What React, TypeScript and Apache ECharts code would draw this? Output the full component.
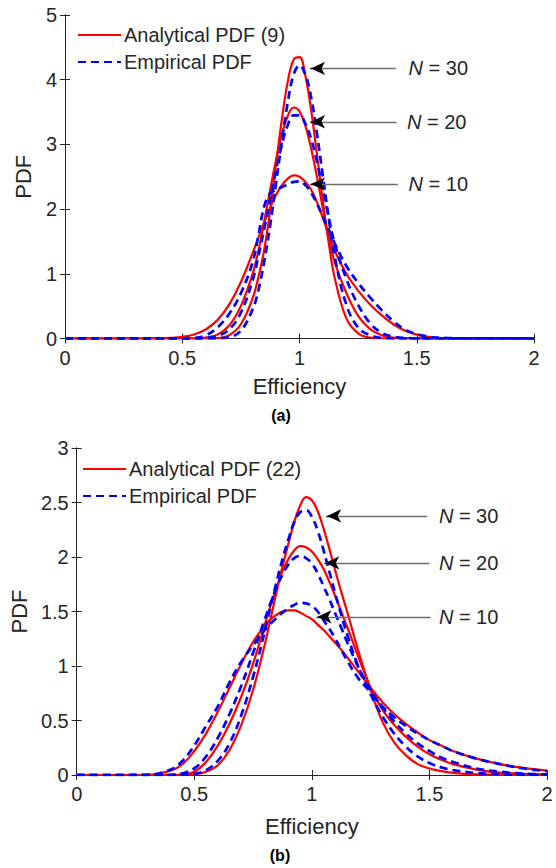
import React, { useEffect, useRef } from "react";
import * as echarts from "echarts";

// x grid shared by all curves (Efficiency)
const X = [0, 0.1, 0.2, 0.3, 0.4, 0.45, 0.5, 0.55, 0.6, 0.65, 0.7, 0.75, 0.8, 0.825, 0.85, 0.875, 0.9, 0.925, 0.95, 0.975, 1.0, 1.025, 1.05, 1.075, 1.1, 1.125, 1.15, 1.2, 1.25, 1.3, 1.35, 1.4, 1.45, 1.5, 1.55, 1.6, 1.7, 1.8, 1.9, 2.0];

// ---- panel (a) ----
const aAna30 = [0, 0, 0, 0, 0, 0, 0, 0, 0, 0.005, 0.05, 0.22, 0.62, 0.95, 1.38, 1.98, 2.69, 3.39, 3.97, 4.31, 4.35, 4.06, 3.52, 2.83, 2.11, 1.47, 0.94, 0.31, 0.08, 0.015, 0.002, 0, 0, 0, 0, 0, 0, 0, 0, 0];
const aAna20 = [0, 0, 0, 0, 0, 0, 0, 0.003, 0.015, 0.06, 0.2, 0.5, 1.0, 1.36, 1.82, 2.3, 2.76, 3.16, 3.44, 3.57, 3.51, 3.29, 2.93, 2.49, 2.0, 1.54, 1.18, 0.7, 0.35, 0.15, 0.05, 0.015, 0.004, 0, 0, 0, 0, 0, 0, 0];
const aAna10 = [0, 0, 0, 0, 0.003, 0.009, 0.025, 0.062, 0.14, 0.284, 0.524, 0.873, 1.32, 1.56, 1.8, 2.02, 2.22, 2.37, 2.47, 2.52, 2.5, 2.42, 2.3, 2.1, 1.86, 1.6, 1.36, 1.0, 0.74, 0.53, 0.36, 0.22, 0.12, 0.06, 0.025, 0.008, 0.001, 0, 0, 0];
const aEmp30 = [0, 0, 0, 0, 0, 0, 0, 0, 0, 0.003, 0.02, 0.12, 0.45, 0.75, 1.2, 1.75, 2.4, 3.05, 3.65, 4.08, 4.22, 4.08, 3.72, 3.15, 2.5, 1.85, 1.27, 0.52, 0.17, 0.05, 0.01, 0.002, 0, 0, 0, 0, 0, 0, 0, 0];
const aEmp20 = [0, 0, 0, 0, 0, 0, 0, 0, 0.01, 0.04, 0.14, 0.4, 0.9, 1.28, 1.7, 2.15, 2.6, 3.0, 3.3, 3.45, 3.45, 3.32, 3.08, 2.72, 2.3, 1.86, 1.47, 0.92, 0.52, 0.24, 0.09, 0.03, 0.008, 0.002, 0, 0, 0, 0, 0, 0];
const aEmp10 = [0, 0, 0, 0, 0, 0, 0.002, 0.01, 0.05, 0.17, 0.38, 0.7, 1.18, 1.6, 2.05, 2.24, 2.3, 2.34, 2.38, 2.42, 2.43, 2.37, 2.25, 2.08, 1.88, 1.68, 1.47, 1.12, 0.86, 0.64, 0.44, 0.27, 0.14, 0.07, 0.03, 0.012, 0.002, 0, 0, 0];

// ---- panel (b) ----
const bAna30 = [0, 0, 0, 0, 0, 0, 0.005, 0.03, 0.09, 0.23, 0.46, 0.78, 1.2, 1.44, 1.68, 1.91, 2.12, 2.32, 2.47, 2.55, 2.52, 2.42, 2.26, 2.07, 1.87, 1.68, 1.5, 1.12, 0.78, 0.49, 0.3, 0.18, 0.1, 0.06, 0.035, 0.02, 0.006, 0.002, 0, 0];
const bAna20 = [0, 0, 0, 0, 0, 0.005, 0.03, 0.12, 0.27, 0.47, 0.72, 1.02, 1.38, 1.56, 1.72, 1.87, 1.98, 2.06, 2.1, 2.09, 2.05, 1.98, 1.89, 1.77, 1.64, 1.5, 1.36, 1.07, 0.8, 0.6, 0.46, 0.35, 0.26, 0.19, 0.14, 0.1, 0.05, 0.022, 0.01, 0.004];
const bAna10 = [0, 0, 0, 0.001, 0.04, 0.1, 0.22, 0.38, 0.58, 0.8, 1.02, 1.22, 1.37, 1.43, 1.47, 1.5, 1.51, 1.51, 1.49, 1.46, 1.43, 1.38, 1.33, 1.27, 1.21, 1.15, 1.08, 0.94, 0.8, 0.67, 0.56, 0.47, 0.39, 0.32, 0.27, 0.22, 0.15, 0.1, 0.065, 0.04];
const bEmp30 = [0, 0, 0, 0, 0, 0.002, 0.01, 0.045, 0.13, 0.29, 0.55, 0.9, 1.32, 1.55, 1.77, 1.98, 2.16, 2.32, 2.41, 2.43, 2.37, 2.24, 2.06, 1.86, 1.66, 1.47, 1.29, 0.98, 0.74, 0.54, 0.38, 0.26, 0.17, 0.11, 0.07, 0.045, 0.018, 0.007, 0.002, 0];
const bEmp20 = [0, 0, 0, 0, 0.002, 0.015, 0.06, 0.17, 0.34, 0.56, 0.82, 1.12, 1.43, 1.58, 1.72, 1.84, 1.93, 1.99, 2.01, 1.99, 1.94, 1.85, 1.73, 1.61, 1.48, 1.35, 1.22, 0.98, 0.78, 0.62, 0.49, 0.38, 0.29, 0.22, 0.16, 0.12, 0.06, 0.03, 0.012, 0.005];
const bEmp10 = [0, 0, 0, 0.002, 0.05, 0.13, 0.27, 0.45, 0.63, 0.85, 1.04, 1.19, 1.33, 1.39, 1.44, 1.49, 1.53, 1.56, 1.58, 1.575, 1.55, 1.5, 1.42, 1.34, 1.25, 1.15, 1.05, 0.88, 0.76, 0.63, 0.53, 0.45, 0.38, 0.32, 0.27, 0.22, 0.15, 0.1, 0.06, 0.035];

// axis ticks
const xTicks = { min: 0, max: 2, interval: 0.5 };
const aYTicks = { min: 0, max: 5, interval: 1 };
const bYTicks = { min: 0, max: 3, interval: 0.5 };

// legend names
const aNames = ["Analytical PDF (9)", "Empirical PDF"];
const bNames = ["Analytical PDF (22)", "Empirical PDF"];

// annotations: N labels, arrow row (y), arrow head x, arrow tail x, label x
const nLabels = ["30", "20", "10"];
const aArrowY = [4.175, 3.35, 2.387];
const aHeadX = [1.024, 1.024, 1.024];
const aTailX = [1.411, 1.414, 1.42];
const aLabelX = [1.465, 1.458, 1.465];
const bArrowY = [2.377, 1.946, 1.451];
const bHeadX = [1.04, 1.032, 0.999];
const bTailX = [1.49, 1.5, 1.505];
const bLabelX = [1.54, 1.54, 1.54];

const FONT = "'Liberation Sans', Arial, Helvetica, sans-serif";
const TXT = "#262626";
const RED = "#ff0000";
const BLUE = "#0000ff";

const pairs = (ys: number[]) => X.map((x, i) => [x, ys[i]]);

function annotations(ys: number[], heads: number[], tails: number[], labelXs: number[]) {
  const lines: any[] = [];
  const points: any[] = [];
  ys.forEach((y, i) => {
    lines.push([
      { coord: [tails[i], y], symbol: "none", lineStyle: { color: "#6f6f6f", width: 1.3, type: "solid" } },
      { coord: [heads[i] + 0.02, y], symbol: "none" },
    ]);
    lines.push([
      { coord: [heads[i] + 0.07, y], symbol: "none", lineStyle: { color: "#000000", width: 1.3, type: "solid" } },
      { coord: [heads[i] + 0.025, y], symbol: "arrow", symbolSize: [10, 14] },
    ]);
    points.push({
      coord: [labelXs[i], y],
      symbol: "circle",
      symbolSize: 0.1,
      itemStyle: { color: "rgba(0,0,0,0)" },
      label: {
        show: true,
        position: "right",
        distance: 0,
        formatter: "{i|N} = " + nLabels[i],
        color: TXT,
        fontSize: 20,
        fontFamily: FONT,
        rich: { i: { fontStyle: "italic", fontSize: 20, fontFamily: FONT, color: TXT } },
      },
    });
  });
  return {
    markLine: { silent: true, animation: false, symbol: ["none", "none"], label: { show: false }, data: lines },
    markPoint: { silent: true, animation: false, data: points },
  };
}

function axesFor(grid: number, yT: any, nameGapX: number, nameGapY: number) {
  const line = { show: true, lineStyle: { color: TXT, width: 1 } };
  const tick = { show: true, inside: true, length: 5, lineStyle: { color: TXT, width: 1 } };
  const x = [
    {
      type: "value", gridIndex: grid, ...xTicks, position: "bottom",
      axisLine: line, axisTick: tick, splitLine: { show: false },
      axisLabel: { color: TXT, fontSize: 20, fontFamily: FONT, margin: 9 },
      name: "Efficiency", nameLocation: "middle", nameGap: nameGapX,
      nameTextStyle: { color: TXT, fontSize: 22, fontFamily: FONT },
    },
    {
      type: "value", gridIndex: grid, ...xTicks, position: "top",
      axisLine: line, axisTick: tick, splitLine: { show: false }, axisLabel: { show: false },
    },
  ];
  const y = [
    {
      type: "value", gridIndex: grid, ...yT, position: "left",
      axisLine: line, axisTick: tick, splitLine: { show: false },
      axisLabel: { color: TXT, fontSize: 20, fontFamily: FONT, margin: 8 },
      name: "PDF", nameLocation: "middle", nameGap: nameGapY, nameRotate: 90,
      nameTextStyle: { color: TXT, fontSize: 22, fontFamily: FONT },
    },
    {
      type: "value", gridIndex: grid, ...yT, position: "right",
      axisLine: line, axisTick: tick, splitLine: { show: false }, axisLabel: { show: false },
    },
  ];
  return { x, y };
}

function curve(name: string, ys: number[], axis: number, dashed: boolean, extra: any = {}) {
  return {
    type: "line",
    name,
    xAxisIndex: axis,
    yAxisIndex: axis,
    data: pairs(ys),
    smooth: 0.4,
    symbol: "none",
    showSymbol: false,
    silent: true,
    lineStyle: dashed
      ? { color: BLUE, width: 2.7, type: [8, 5] }
      : { color: RED, width: 2.2, type: "solid" },
    itemStyle: { color: dashed ? BLUE : RED },
    z: dashed ? 3 : 2,
    ...extra,
  };
}

export default function App() {
  const ref = useRef<HTMLDivElement>(null);
  useEffect(() => {
    if (!ref.current) return;
    const chart = echarts.init(ref.current, null, { renderer: "svg" });
    const A = axesFor(0, aYTicks, 37, 31);
    const B = axesFor(1, bYTicks, 40, 43);
    const legendBase = {
      orient: "vertical",
      padding: 0,
      itemWidth: 43,
      itemHeight: 14,
      itemGap: 7,
      selectedMode: false,
      itemStyle: { color: "rgba(0,0,0,0)", borderColor: "rgba(0,0,0,0)", borderWidth: 0, opacity: 0 },
      textStyle: { color: TXT, fontSize: 20, fontFamily: FONT, padding: [0, 0, 0, -2], lineHeight: 20 },
    };
    chart.setOption({
      animation: false,
      backgroundColor: "#ffffff",
      grid: [
        { left: 65, top: 15, width: 469, height: 323.5 },
        { left: 72, top: 448, width: 475, height: 327 },
      ],
      xAxis: [...A.x, ...B.x],
      yAxis: [...A.y, ...B.y],
      legend: [
        { ...legendBase, left: 77, top: 25, data: aNames },
        { ...legendBase, left: 82, top: 459, data: bNames },
      ],
      series: [
        curve(aNames[0], aAna30, 0, false, annotations(aArrowY, aHeadX, aTailX, aLabelX)),
        curve(aNames[0], aAna20, 0, false),
        curve(aNames[0], aAna10, 0, false),
        curve(aNames[1], aEmp30, 0, true),
        curve(aNames[1], aEmp20, 0, true),
        curve(aNames[1], aEmp10, 0, true),
        curve(bNames[0], bAna30, 2, false, annotations(bArrowY, bHeadX, bTailX, bLabelX)),
        curve(bNames[0], bAna20, 2, false),
        curve(bNames[0], bAna10, 2, false),
        curve(bNames[1], bEmp30, 2, true),
        curve(bNames[1], bEmp20, 2, true),
        curve(bNames[1], bEmp10, 2, true),
      ],
      graphic: [
        { type: "text", x: 281, y: 415, style: { text: "(a)", fill: "#000", font: "bold 16px " + FONT, textAlign: "center", textVerticalAlign: "middle" } },
        { type: "text", x: 280, y: 855, style: { text: "(b)", fill: "#000", font: "bold 16px " + FONT, textAlign: "center", textVerticalAlign: "middle" } },
      ],
    });
    return () => chart.dispose();
  }, []);
  return <div ref={ref} style={{ position: "absolute", left: 0, top: 0, width: 556, height: 868, background: "#fff" }} />;
}
